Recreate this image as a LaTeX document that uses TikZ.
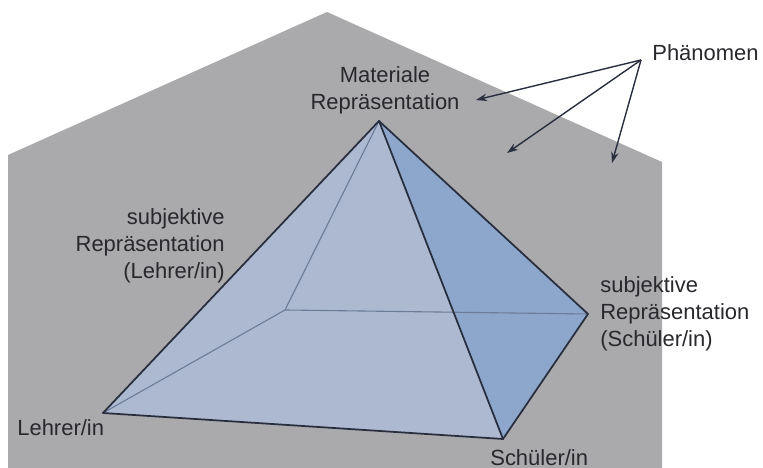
\documentclass[tikz,border=0pt]{standalone}
\usepackage{fontspec}
\setmainfont{Liberation Sans}
\usetikzlibrary{arrows.meta}
\definecolor{housegrey}{RGB}{170,170,172}
\definecolor{faceblue}{RGB}{172,185,208}
\definecolor{sideblue}{RGB}{140,167,203}
\definecolor{edgedark}{RGB}{40,46,62}
\definecolor{hiddenblue}{RGB}{108,124,152}
\definecolor{textgrey}{RGB}{40,40,45}
\tikzset{
  edgeline/.style={line width=0.035cm, draw=edgedark, line join=round, line cap=round},
  hiddenline/.style={line width=0.022cm, draw=hiddenblue},
  pointer/.style={line width=0.028cm, draw=edgedark, -{Stealth[length=0.22cm,width=0.15cm]}},
  labeltext/.style={inner sep=0pt, text=textgrey, font=\fontsize{12.5}{15.4}\selectfont},
}
\begin{document}
\begin{tikzpicture}
                    \useasboundingbox (0,0) rectangle (15.26,9.36);

                    % Drawing house (Phaenomen)
                    \fill [housegrey] (0.16,0) -- (0.16,6.26) -- (6.54,9.12) -- (13.24,6.12) -- (13.24,0) -- cycle;%

                    % Pyramid corners
                    \coordinate (A) at (7.58,6.94);%
                    \coordinate (B) at (5.70,3.16);%
                    \coordinate (L) at (2.06,1.10);%
                    \coordinate (S) at (10.06,0.58);%
                    \coordinate (R) at (11.76,3.08);%

                    % Filling faces
                    \fill [faceblue] (L) -- (A) -- (R) -- (S) -- cycle;%
                    \fill [sideblue] (A) -- (R) -- (S) -- cycle;%

                    % Drawing hidden edges A B, B L, B R
                    \draw [hiddenline] (A) -- (B);%
                    \draw [hiddenline] (B) -- (L);%
                    \draw [hiddenline] (B) -- (R);%

                    % Drawing visible edges
                    \draw [edgeline] (A) -- (L);%
                    \draw [edgeline] (A) -- (S);%
                    \draw [edgeline] (A) -- (R);%
                    \draw [edgeline] (L) -- (S);%
                    \draw [edgeline] (S) -- (R);%

                    % Labels of the corners
                    \node [labeltext, align=center] (mat) at (7.70,7.56) {Materiale\\Repräsentation};%
                    \node [labeltext, align=right, anchor=east] (subL) at (4.50,4.44) {subjektive\\Repräsentation\\(Lehrer/in)};%
                    \node [labeltext, align=left, anchor=west] (subS) at (12.00,3.08) {subjektive\\Repräsentation\\(Schüler/in)};%
                    \node [labeltext, anchor=west] (lehrer) at (0.34,0.80) {Lehrer/in};%
                    \node [labeltext, anchor=west] (schueler) at (9.80,0.20) {Schüler/in};%

                    % Marking Phaenomen with arrows
                    \node [labeltext, anchor=west] (phae) at (13.04,8.30) {Phänomen};%
                    \coordinate (P) at (12.82,8.16);%
                    \coordinate (tipM) at (9.52,7.36);%
                    \coordinate (tipH) at (10.14,6.30);%
                    \coordinate (tipW) at (12.24,6.10);%
                    \draw [pointer] (P) -- (tipM);%
                    \draw [pointer] (P) -- (tipH);%
                    \draw [pointer] (P) -- (tipW);%
\end{tikzpicture}
\end{document}
